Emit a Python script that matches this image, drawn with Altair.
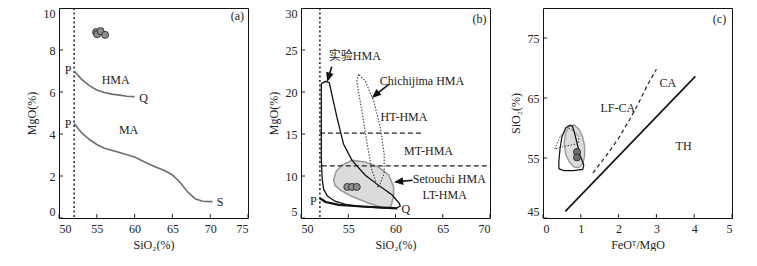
import altair as alt
import pandas as pd

FONT = "'Liberation Serif', 'Times New Roman', 'Noto Sans CJK SC', serif"

# ---------------- Panel (a) data ----------------
a_upper_x = [52, 53, 54, 55, 56, 57, 58, 59, 60]
a_upper_y = [7.0, 6.6, 6.3, 6.1, 5.98, 5.9, 5.85, 5.8, 5.78]
a_lower_x = [52, 53, 54, 55, 56, 58, 60, 62, 64, 65, 66, 67, 68, 69, 70.3]
a_lower_y = [4.5, 4.05, 3.75, 3.5, 3.32, 3.12, 2.9, 2.55, 2.25, 2.05, 1.7, 1.25, 0.92, 0.8, 0.78]
a_pts_x = [54.9, 55.05, 55.5, 56.1]
a_pts_y = [8.85, 8.75, 8.9, 8.72]
a_lbl_text = ["P", "P", "Q", "S", "HMA", "MA", "(a)"]
a_lbl_x = [51.2, 51.2, 61.2, 71.3, 57.5, 59.2, 73.6]
a_lbl_y = [7.05, 4.5, 5.72, 0.78, 6.55, 4.2, 9.6]
a_xticks = [50, 55, 60, 65, 70, 75]
a_yticks = [0, 2, 4, 6, 8, 10]
a_vline = [52]

# ---------------- Panel (b) data ----------------
b_env_x = [52.15, 52.6, 53.0, 53.27, 53.8, 54.5, 55.4, 56.8, 58.2, 59.65, 60.4, 60.5,
           60.0, 58.0, 56.0, 54.8, 53.6, 52.8, 52.4, 52.25, 52.15, 52.15]
b_env_y = [21.0, 21.27, 21.1, 19.7, 17.0, 13.8, 11.86, 10.1, 8.9, 7.74, 6.76, 6.4,
           6.15, 6.25, 6.4, 6.6, 7.0, 7.6, 8.4, 9.5, 12.0, 21.0]
b_pq_x = [52.0, 52.6, 54.0, 56.5, 59.65, 60.2]
b_pq_y = [7.35, 6.9, 6.56, 6.37, 6.18, 6.15]
b_chi_x = [56.1, 55.9, 56.45, 57.0, 57.5, 58.05, 58.2, 58.8, 58.8, 58.4, 57.7, 56.8, 56.1]
b_chi_y = [22.1, 21.3, 17.7, 13.8, 10.7, 8.9, 8.6, 10.3, 12.6, 15.8, 18.9, 21.3, 22.1]
b_set_x = [53.45, 53.7, 54.3, 55.4, 56.8, 58.2, 59.3, 59.8, 59.8, 59.5, 58.8, 57.2, 55.4, 54.15, 53.6, 53.45]
b_set_y = [9.5, 10.5, 11.27, 11.86, 11.66, 11.07, 10.1, 8.7, 7.55, 6.37, 6.18, 6.76, 7.55, 8.33, 8.9, 9.5]
b_h15_x = [52.0, 63.0]
b_h15_y = [15.1, 15.1]
b_h11_x = [52.2, 70.0]
b_h11_y = [11.2, 11.2]
b_pts_x = [54.9, 55.4, 55.9]
b_pts_y = [8.7, 8.7, 8.7]
b_lbl_text = ["实验HMA", "Chichijima HMA", "HT-HMA", "MT-HMA", "Setouchi HMA", "LT-HMA", "P", "Q", "(b)"]
b_lbl_x = [55.7, 62.8, 60.9, 63.5, 65.7, 65.2, 51.3, 61.1, 68.9]
b_lbl_y = [24.3, 21.3, 17.0, 13.0, 9.7, 7.75, 7.0, 6.05, 28.7]
b_arrow_x0 = [53.25, 59.3, 61.8]
b_arrow_y0 = [23.0, 20.9, 9.5]
b_arrow_x1 = [52.85, 57.7, 60.1]
b_arrow_y1 = [21.5, 19.5, 9.3]
b_arrow_angle = [196.6, 230.2, 263.5]
b_xticks = [50, 55, 60, 65, 70]
b_yticks = [5, 10, 15, 20, 25, 30]
b_vline = [52]

# ---------------- Panel (c) data ----------------
c_th_x = [0.59, 4.03]
c_th_y = [46.1, 68.6]
c_lf_x = [1.32, 1.7, 2.0, 2.3, 2.5, 2.75, 3.0]
c_lf_y = [52.5, 55.6, 58.3, 61.5, 63.8, 67.0, 69.8]
c_env_x = [0.72, 0.6, 0.5, 0.45, 0.42, 0.42, 0.55, 0.8, 1.05, 1.08, 0.98, 0.9, 0.82, 0.78, 0.72]
c_env_y = [60.5, 60.0, 58.5, 56.5, 54.5, 53.2, 52.9, 52.9, 53.1, 53.8, 55.5, 57.5, 59.5, 60.3, 60.5]
c_set_x = [0.56, 0.6, 0.7, 0.82, 0.95, 1.05, 1.1, 1.1, 1.05, 0.95, 0.82, 0.7, 0.6, 0.56]
c_set_y = [57.5, 59.3, 60.3, 60.5, 59.8, 58.5, 57.0, 55.3, 54.0, 53.4, 53.5, 54.3, 55.6, 57.5]
c_dot_x = [0.31, 0.45, 0.63, 0.8, 0.95, 0.94, 0.6, 0.31]
c_dot_y = [56.5, 58.5, 60.1, 59.6, 58.6, 57.4, 57.0, 56.5]
c_pts_x = [0.9, 0.9]
c_pts_y = [56.0, 55.1]
c_lbl_text = ["CA", "LF-CA", "TH", "(c)"]
c_lbl_x = [3.3, 1.98, 3.72, 4.67]
c_lbl_y = [67.5, 63.3, 57.0, 78.1]
c_xticks = [0, 1, 2, 3, 4, 5]
c_yticks = [45, 55, 65, 75]

W, H = 189, 210
FS = 12


def poly(xs, ys):
    return pd.DataFrame({"x": xs, "y": ys, "o": list(range(len(xs)))})


def make_panel(xdom, ydom, xticks, yticks, xtitle, ytitle):
    xs = alt.Scale(domain=xdom, nice=False, zero=False)
    ys = alt.Scale(domain=ydom, nice=False, zero=False)
    X = lambda f="x": alt.X(f"{f}:Q", scale=xs, axis=alt.Axis(values=xticks, title=xtitle, format="d"))
    Y = lambda f="y": alt.Y(f"{f}:Q", scale=ys, axis=alt.Axis(values=yticks, title=ytitle, format="d"))

    def line(xs_, ys_, **kw):
        return alt.Chart(poly(xs_, ys_)).mark_line(**kw).encode(x=X(), y=Y(), order="o:Q")

    def pts(xs_, ys_, fill):
        return alt.Chart(poly(xs_, ys_)).mark_point(
            filled=True, fill=fill, stroke="#222", strokeWidth=0.8, size=50, opacity=1
        ).encode(x=X(), y=Y())

    def texts(tx, xs_, ys_):
        df = pd.DataFrame({"x": xs_, "y": ys_, "t": tx})
        return alt.Chart(df).mark_text(font=FONT, fontSize=FS, color="#222").encode(x=X(), y=Y(), text="t:N")

    def ticks():
        tx = alt.Chart(pd.DataFrame({"v": xticks})).mark_rule(color="#222", strokeWidth=1).encode(
            x=X("v"), y=alt.value(H), y2=alt.value(H - 4))
        ty = alt.Chart(pd.DataFrame({"v": yticks})).mark_rule(color="#222", strokeWidth=1).encode(
            y=Y("v"), x=alt.value(0), x2=alt.value(4))
        return [tx, ty]

    def vline(vals):
        return alt.Chart(pd.DataFrame({"v": vals})).mark_rule(
            color="#222", strokeWidth=1.5, strokeDash=[2, 2.5]).encode(x=X("v"))

    return X, Y, line, pts, texts, ticks, vline


# Panel a
X, Y, line, pts, texts, ticks, vline = make_panel([50, 75], [0, 10], a_xticks, a_yticks, "SiO₂(%)", "MgO(%)")
panel_a = alt.layer(
    *ticks(),
    vline(a_vline),
    line(a_upper_x, a_upper_y, color="#6e6e6e", strokeWidth=1.6),
    line(a_lower_x, a_lower_y, color="#6e6e6e", strokeWidth=1.6),
    pts(a_pts_x, a_pts_y, "#8c8c8c"),
    texts(a_lbl_text, a_lbl_x, a_lbl_y),
).properties(width=W, height=H)

# Panel b
X, Y, line, pts, texts, ticks, vline = make_panel([50, 70], [5, 30], b_xticks, b_yticks, "SiO₂(%)", "MgO(%)")
arrows = []
for i in range(len(b_arrow_x0)):
    arrows.append(line([b_arrow_x0[i], b_arrow_x1[i]], [b_arrow_y0[i], b_arrow_y1[i]], color="#111", strokeWidth=1.6))
    arrows.append(
        alt.Chart(poly([b_arrow_x1[i]], [b_arrow_y1[i]])).mark_point(
            shape="M0,0L-0.45,1.1L0.45,1.1Z", filled=True, fill="#111", stroke="#111",
            size=110, angle=b_arrow_angle[i], opacity=1).encode(x=X(), y=Y())
    )
panel_b = alt.layer(
    line(b_set_x, b_set_y, fill="#dcdcdc", stroke="#9a9a9a", strokeWidth=1.6),
    *ticks(),
    vline(b_vline),
    line(b_h15_x, b_h15_y, color="#222", strokeWidth=1.1, strokeDash=[5, 3]),
    line(b_h11_x, b_h11_y, color="#222", strokeWidth=1.1, strokeDash=[5, 3]),
    line(b_env_x, b_env_y, color="#111", strokeWidth=1.3),
    line(b_pq_x, b_pq_y, color="#111", strokeWidth=2.2),
    line(b_chi_x, b_chi_y, color="#444", strokeWidth=1.1, strokeDash=[1.5, 1.5]),
    pts(b_pts_x, b_pts_y, "#8c8c8c"),
    *arrows,
    texts(b_lbl_text, b_lbl_x, b_lbl_y),
).properties(width=W, height=H)

# Panel c
X, Y, line, pts, texts, ticks, vline = make_panel([0, 5], [45, 80], c_xticks, c_yticks, "FeOᵀ/MgO", "SiO₂(%)")
panel_c = alt.layer(
    line(c_set_x, c_set_y, fill="#dcdcdc", stroke="#9a9a9a", strokeWidth=1.4),
    *ticks(),
    line(c_env_x, c_env_y, color="#111", strokeWidth=1.2),
    line(c_dot_x, c_dot_y, color="#444", strokeWidth=1.0, strokeDash=[1.5, 1.5]),
    line(c_th_x, c_th_y, color="#111", strokeWidth=1.6),
    line(c_lf_x, c_lf_y, color="#222", strokeWidth=1.2, strokeDash=[4, 3]),
    pts(c_pts_x, c_pts_y, "#6e6e6e"),
    texts(c_lbl_text, c_lbl_x, c_lbl_y),
).properties(width=W, height=H)

chart = alt.hconcat(panel_a, panel_b, panel_c, spacing=53, bounds="flush").properties(
    padding={"left": 16, "top": -2, "right": 0, "bottom": 0}
).configure_view(stroke="#111", strokeWidth=1).configure_axis(
    domain=False, ticks=False, grid=False,
    labelFont=FONT, titleFont=FONT, labelFontSize=FS, titleFontSize=FS,
    titleFontWeight="normal", labelColor="#222", titleColor="#222",
).configure_axisX(labelPadding=5, titlePadding=5, labelFlush=True).configure_axisY(
    labelPadding=4, titlePadding=5, labelFlush=2)

chart.save("out.html", embed_options={"renderer": "svg", "actions": False})
